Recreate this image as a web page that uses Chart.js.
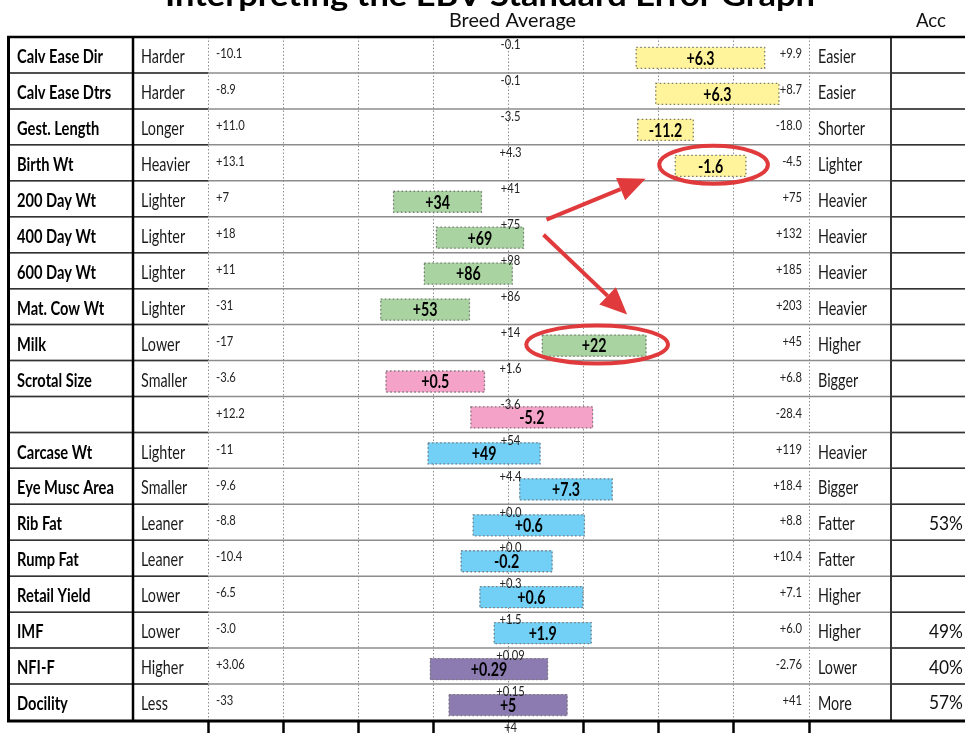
<!DOCTYPE html>
<html>
<head>
<meta charset="utf-8">
<script src="https://cdn.jsdelivr.net/npm/chart.js@4.4.1/dist/chart.umd.min.js"></script>
<style>
  html, body { margin: 0; padding: 0; background: #fff; }
  #wrap { position: relative; width: 965px; height: 733px; }
</style>
</head>
<body>
<div id="wrap"><canvas id="ebvChart"></canvas></div>
<script>
// ── DATA ──────────────────────────────────────────────────────
const TITLE = 'Interpreting the EBV Standard Error Graph';
const HEAD_MID = 'Breed Average';
const HEAD_ACC = 'Acc';

const traits   = ['Calv Ease Dir','Calv Ease Dtrs','Gest. Length','Birth Wt','200 Day Wt','400 Day Wt','600 Day Wt','Mat. Cow Wt','Milk','Scrotal Size','','Carcase Wt','Eye Musc Area','Rib Fat','Rump Fat','Retail Yield','IMF','NFI-F','Docility'];
const lowDir   = ['Harder','Harder','Longer','Heavier','Lighter','Lighter','Lighter','Lighter','Lower','Smaller','','Lighter','Smaller','Leaner','Leaner','Lower','Lower','Higher','Less'];
const highDir  = ['Easier','Easier','Shorter','Lighter','Heavier','Heavier','Heavier','Heavier','Higher','Bigger','','Heavier','Bigger','Fatter','Fatter','Higher','Higher','Lower','More'];
const lowVal   = ['-10.1','-8.9','+11.0','+13.1','+7','+18','+11','-31','-17','-3.6','+12.2','-11','-9.6','-8.8','-10.4','-6.5','-3.0','+3.06','-33'];
const avgVal   = ['-0.1','-0.1','-3.5','+4.3','+41','+75','+98','+86','+14','+1.6','-3.6','+54','+4.4','+0.0','+0.0','+0.3','+1.5','+0.09','+0.15'];
const highVal  = ['+9.9','+8.7','-18.0','-4.5','+75','+132','+185','+203','+45','+6.8','-28.4','+119','+18.4','+8.8','+10.4','+7.1','+6.0','-2.76','+41'];
const ebv      = ['+6.3','+6.3','-11.2','-1.6','+34','+69','+86','+53','+22','+0.5','-5.2','+49','+7.3','+0.6','-0.2','+0.6','+1.9','+0.29','+5'];
const acc      = ['','','','','','','','','','','','','','53%','','','49%','40%','57%'];
const groups   = ['calving','calving','calving','calving','growth','growth','growth','growth','growth','fertility','fertility','carcase','carcase','carcase','carcase','carcase','carcase','feed','feed'];
// bar extent (EBV +/- error) on the standardised axis, -4 .. +4 around breed average
const barLow   = [1.70, 1.96, 1.72, 2.22, -1.53, -0.96, -1.12, -1.70, 0.45, -1.63, -0.50, -1.07, 0.15, -0.47, -0.63, -0.38, -0.19, -1.04, -0.79];
const barHigh  = [3.41, 3.60, 2.46, 3.16, -0.36, 0.20, 0.05, -0.52, 1.83, -0.32, 1.12, 0.42, 1.38, 1.01, 0.58, 0.99, 1.10, 0.52, 0.78];
const nextRowAvg = '+4';   // first value of the row cut off below
const circled  = [3, 8];   // Birth Wt, Milk
const arrowFrom = 5;       // 400 Day Wt

// ── STYLE ─────────────────────────────────────────────────────
const GROUP_COLORS = { calving: '#fff39b', growth: '#a9d4a1', fertility: '#f4a2c8', carcase: '#72cff5', feed: '#8b7bb0' };
const RED = '#e03a3c';
const TXT = {
  name:  { font: 'bold 19px Lato', ref: 'Calv Ease Dir', w: 86,   color: '#000' },
  dir:   { font: '19px Lato',      ref: 'Heavier',       w: 49,   color: '#1a1a1a' },
  small: { font: '13px Lato',      ref: '+132',          w: 26,   color: '#222' },
  ebv:   { font: 'bold 18px Lato', ref: '-11.2',         w: 33.4, color: '#000' },
  acc:   { font: '20px Lato',      ref: '53%',           w: 34,   color: '#111' },
  head:  { font: '19px Lato',      ref: HEAD_MID,        w: 127,  color: '#111' },
  title: { font: 'bold 30px Lato', ref: TITLE,           w: 650,  color: '#000' },
};
const TABLE = { left: 8.5, nameRight: 133, accLeft: 891, right: 965 };
const BAR_SHIFT = 3;

function drawText(ctx, st, str, x, y, align, baseline) {
  if (!str) return;
  ctx.save();
  ctx.font = st.font;
  const sx = st.w / ctx.measureText(st.ref).width;
  ctx.translate(x, y);
  ctx.scale(sx, 1);
  ctx.textAlign = align || 'left';
  ctx.textBaseline = baseline || 'middle';
  ctx.fillStyle = st.color;
  ctx.fillText(str, 0, 0);
  ctx.restore();
}

function hline(ctx, x1, x2, y, color, w) {
  ctx.beginPath(); ctx.strokeStyle = color; ctx.lineWidth = w;
  ctx.moveTo(x1, y); ctx.lineTo(x2, y); ctx.stroke();
}
function vline(ctx, x, y1, y2, color, w) {
  ctx.beginPath(); ctx.strokeStyle = color; ctx.lineWidth = w;
  ctx.moveTo(x, y1); ctx.lineTo(x, y2); ctx.stroke();
}

function arrow(ctx, x1, y1, x2, y2) {
  const a = Math.atan2(y2 - y1, x2 - x1), L = 27, W = 12;
  const bx = x2 - L * Math.cos(a), by = y2 - L * Math.sin(a);
  ctx.beginPath(); ctx.moveTo(x1, y1); ctx.lineTo(bx, by); ctx.stroke();
  ctx.beginPath(); ctx.moveTo(x2, y2);
  ctx.lineTo(bx + W * Math.sin(a), by - W * Math.cos(a));
  ctx.lineTo(bx - W * Math.sin(a), by + W * Math.cos(a));
  ctx.closePath(); ctx.fill();
}

function barBox(el) {
  const p = el.getProps(['x', 'y', 'base', 'height'], true);
  const l = Math.min(p.x, p.base), r = Math.max(p.x, p.base);
  return { l, r, cx: (l + r) / 2, cy: p.y + BAR_SHIFT, top: p.y + BAR_SHIFT - p.height / 2, h: p.height };
}

// ── BARS: dotted borders + EBV labels (drawn shifted down a little) ──
const barDecor = {
  id: 'barDecor',
  beforeDatasetsDraw(chart) {
    chart.ctx.save();
    chart.ctx.translate(0, BAR_SHIFT);
  },
  afterDatasetsDraw(chart) {
    const ctx = chart.ctx;
    ctx.restore();
    chart.getDatasetMeta(0).data.forEach((el, i) => {
      const b = barBox(el);
      ctx.save();
      ctx.setLineDash([1.5, 2.5]);
      ctx.strokeStyle = '#7a7a7a';
      ctx.lineWidth = 1.3;
      ctx.strokeRect(b.l, b.top, b.r - b.l, b.h);
      ctx.restore();
      drawText(ctx, TXT.ebv, ebv[i], b.cx, b.cy + 1, 'center');
    });
  }
};

// ── TABLE: rules, columns, texts, annotations ─────────────────
const tableDecor = {
  id: 'tableDecor',
  afterDraw(chart) {
    const ctx = chart.ctx;
    const x = chart.scales.x, y = chart.scales.y, area = chart.chartArea;
    const band = (area.bottom - area.top) / traits.length;
    const x0 = x.getPixelForValue(0);

    // row separators
    for (let i = 1; i < traits.length; i++) {
      const yy = y.getPixelForValue(i) - band / 2;
      hline(ctx, TABLE.left, TABLE.right, yy, '#8c8c8c', 1.5);
      hline(ctx, TABLE.left, area.left, yy, '#333', 1.5);
      hline(ctx, TABLE.accLeft, TABLE.right, yy, '#333', 1.5);
    }
    // column lines
    vline(ctx, TABLE.left, area.top, area.bottom, '#000', 3);
    vline(ctx, TABLE.nameRight, area.top, area.bottom, '#000', 2.5);
    vline(ctx, TABLE.accLeft, area.top, area.bottom, '#333', 2);
    hline(ctx, TABLE.left - 1.5, TABLE.right, area.top, '#000', 2.5);
    hline(ctx, TABLE.left - 1.5, TABLE.right, area.bottom + 1, '#000', 3);

    // headers
    drawText(ctx, TXT.title, TITLE, 490, 6, 'center', 'alphabetic');
    drawText(ctx, TXT.head, HEAD_MID, x0 + 4, 21, 'center');
    drawText(ctx, { ...TXT.head, ref: HEAD_ACC, w: 30 }, HEAD_ACC, 931, 21, 'center');

    // rows
    traits.forEach((t, i) => {
      const cy = y.getPixelForValue(i);
      const top = cy - band / 2;
      drawText(ctx, TXT.name, t, 17, cy + 2);
      drawText(ctx, TXT.dir, lowDir[i], 141, cy + 2);
      drawText(ctx, TXT.small, lowVal[i], area.left + 8, cy - 1);
      drawText(ctx, TXT.small, avgVal[i], x0 + 2, top + 8, 'center');
      drawText(ctx, TXT.small, highVal[i], area.right - 7, cy - 1, 'right');
      drawText(ctx, TXT.dir, highDir[i], area.right + 9, cy + 2);
      drawText(ctx, TXT.acc, acc[i], 963, cy + 1, 'right');
    });
    drawText(ctx, TXT.small, nextRowAvg, x0 + 2, area.bottom + 8, 'center');

    // red annotations
    const bars = chart.getDatasetMeta(0).data.map(barBox);
    ctx.save();
    ctx.strokeStyle = RED; ctx.fillStyle = RED; ctx.lineWidth = 4;
    const rings = circled.map(i => {
      const b = bars[i];
      const r = { cx: b.cx + 3, cy: b.cy - 1, rx: (b.r - b.l) / 2 + 19, ry: 19 };
      ctx.beginPath();
      ctx.ellipse(r.cx, r.cy, r.rx, r.ry, 0, 0, Math.PI * 2);
      ctx.stroke();
      return r;
    });
    const s = bars[arrowFrom];
    arrow(ctx, s.r + 23, s.cy - 18, rings[0].cx - 68, rings[0].cy + 14);
    arrow(ctx, s.r + 20, s.cy - 3, rings[1].cx + 30, rings[1].cy - 30);
    ctx.restore();
  }
};

// ── CHART ─────────────────────────────────────────────────────
new Chart(document.getElementById('ebvChart'), {
  type: 'bar',
  data: {
    labels: traits,
    datasets: [{
      data: barLow.map((lo, i) => [lo, barHigh[i]]),
      backgroundColor: groups.map(g => GROUP_COLORS[g]),
      borderWidth: 0,
      barThickness: 21,
    }]
  },
  options: {
    indexAxis: 'y',
    responsive: true,
    maintainAspectRatio: false,
    animation: false,
    layout: { padding: { left: 208, right: 156, top: 37, bottom: 0 } },
    plugins: { legend: { display: false }, tooltip: { enabled: false } },
    scales: {
      x: {
        type: 'linear', min: -4, max: 4,
        ticks: { display: false, stepSize: 1 },
        grid: {
          color: '#8e8e8e', lineWidth: 1,
          drawTicks: true, tickLength: 13,
          tickColor: c => (c.tick && c.tick.value === 0) ? '#777' : '#000',
          tickWidth: c => (c.tick && c.tick.value === 0) ? 1 : 2.5,
          tickBorderDash: [],
        },
        border: { display: false, dash: [1.5, 2] },
      },
      y: { type: 'category', display: false, offset: true },
    }
  },
  plugins: [barDecor, tableDecor]
});
</script>
</body>
</html>
